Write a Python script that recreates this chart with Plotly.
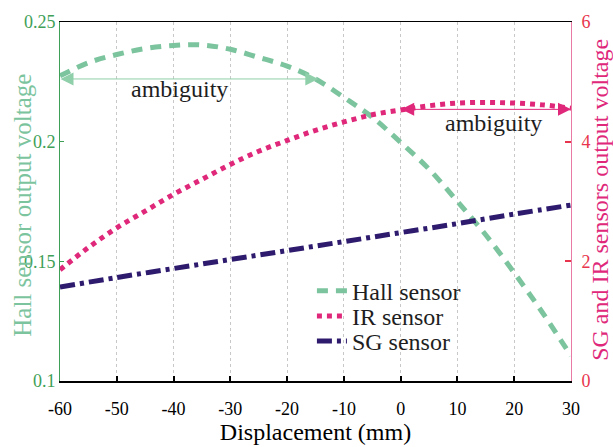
import plotly.graph_objects as go

# ---------------- data ----------------
disp5 = [-60, -55, -50, -45, -40, -35, -30, -25, -20, -15, -10, -5, 0, 5, 10, 15, 20, 25, 30]
hall = [0.2275, 0.2330, 0.2364, 0.2389, 0.2402, 0.2404, 0.2386, 0.2352, 0.2316, 0.2262,
        0.2185, 0.2102, 0.1997, 0.1885, 0.1750, 0.1610, 0.1452, 0.1285, 0.1105]
ir = [1.86, 2.23, 2.56, 2.84, 3.12, 3.37, 3.62, 3.84, 4.02, 4.19,
      4.33, 4.45, 4.53, 4.60, 4.645, 4.655, 4.645, 4.615, 4.56]
disp10 = [-60, -50, -40, -30, -20, -10, 0, 10, 20, 30]
sg = [1.57, 1.73, 1.88, 2.03, 2.18, 2.33, 2.48, 2.63, 2.79, 2.94]

x_ticks = [-60, -50, -40, -30, -20, -10, 0, 10, 20, 30]
x_ticktext = ["-60", "-50", "-40", "-30", "-20", "-10", "0", "10", "20", "30"]
y_ticks = [0.1, 0.15, 0.2, 0.25]
y2_ticks = [0, 2, 4, 6]

hall_amb = (-60, -14.5, 0.2262)
ir_amb = (0, 30, 4.54)
hall_label = (-38.9, 0.2218)
ir_label = (16.4, 4.32)

# ---------------- style ----------------
FONT = "Liberation Serif"
GREEN = "#7cc49e"
GREEN_AX = "#3f9f57"
PINK = "#e0287a"
PINK_AX = "#e87aa4"
RED = "#e8344c"
NAVY = "#2e1b6e"
TXT = "#1e1e1e"

fig = go.Figure()
fig.add_trace(go.Scatter(x=disp5, y=hall, mode="lines", name="Hall sensor", legend="legend",
                         line=dict(color=GREEN, width=5, dash="11px,8px", shape="spline")))
fig.add_trace(go.Scatter(x=disp5, y=ir, mode="lines", name="IR sensor", yaxis="y2", legend="legend2",
                         line=dict(color=PINK, width=5, dash="5px,5px", shape="spline")))
fig.add_trace(go.Scatter(x=disp10, y=sg, mode="lines", name="SG sensor", yaxis="y2", legend="legend3",
                         line=dict(color=NAVY, width=5, dash="15px,5px,4px,5px", shape="spline")))
# invisible trace on the top axis so the frame line is drawn
fig.add_trace(go.Scatter(x=[-60], y=[0.1], xaxis="x2", mode="markers",
                         marker=dict(opacity=0), showlegend=False, hoverinfo="skip"))

annotations = [
    dict(x=hall_amb[1], y=hall_amb[2], ax=hall_amb[0], ay=hall_amb[2], xref="x", yref="y",
         axref="x", ayref="y", text="", showarrow=True, arrowside="end+start",
         arrowhead=2, startarrowhead=2, arrowsize=2.6, startarrowsize=2.6,
         arrowwidth=1, arrowcolor="#8fcfaa", borderpad=0, standoff=0, startstandoff=0),
    dict(x=ir_amb[1], y=ir_amb[2], ax=ir_amb[0], ay=ir_amb[2], xref="x", yref="y2",
         axref="x", ayref="y2", text="", showarrow=True, arrowside="end+start",
         arrowhead=2, startarrowhead=2, arrowsize=2.6, startarrowsize=2.6,
         arrowwidth=1, arrowcolor=PINK, borderpad=0, standoff=0, startstandoff=0),
    dict(x=hall_label[0], y=hall_label[1], xref="x", yref="y", text="ambiguity", showarrow=False,
         font=dict(family=FONT, size=24, color=TXT)),
    dict(x=ir_label[0], y=ir_label[1], xref="x", yref="y2", text="ambiguity", showarrow=False,
         font=dict(family=FONT, size=24, color=TXT)),
    dict(x=-0.075, y=0.49, xref="paper", yref="paper", xanchor="center", yanchor="middle",
         text="Hall sensor output voltage",
         textangle=-90, showarrow=False, font=dict(family=FONT, size=25, color=GREEN)),
    dict(x=1.057, y=0.505, xref="paper", yref="paper", xanchor="center", yanchor="middle",
         text="SG and IR sensors output voltage",
         textangle=-90, showarrow=False, font=dict(family=FONT, size=24, color=PINK)),
]

leg_common = dict(x=0.493, xanchor="left", yanchor="middle", bgcolor="rgba(0,0,0,0)",
                  font=dict(family=FONT, size=24, color=TXT), borderwidth=0)

fig.update_layout(
    width=613, height=447,
    margin=dict(l=60, r=42, t=19, b=50),
    paper_bgcolor="white", plot_bgcolor="white",
    font=dict(family=FONT, size=18, color="black"),
    showlegend=True,
    legend=dict(y=0.250, **leg_common),
    legend2=dict(y=0.180, **leg_common),
    legend3=dict(y=0.110, **leg_common),
    annotations=annotations,
    xaxis=dict(range=[-60, 30], tickvals=x_ticks, ticktext=x_ticktext,
               showgrid=True, gridcolor="#c8c8c8", griddash="dot", gridwidth=1,
               showline=True, linecolor="black", linewidth=2, mirror=False,
               ticks="inside", ticklen=5, tickcolor="black", tickwidth=1.5,
               ticklabelstandoff=10,
               zeroline=False, tickfont=dict(family=FONT, size=18, color="black"),
               title=dict(text="Displacement (mm)", font=dict(family=FONT, size=24, color="black"),
                          standoff=0)),
    xaxis2=dict(range=[-60, 30], overlaying="x", side="top", showline=True, linecolor="black",
                linewidth=1, showticklabels=False, showgrid=False, zeroline=False, ticks=""),
    yaxis=dict(range=[0.1, 0.25], tickvals=y_ticks, showgrid=False, zeroline=False,
               showline=True, linecolor=GREEN_AX, linewidth=1,
               ticks="inside", ticklen=4, tickcolor=GREEN_AX,
               tickfont=dict(family=FONT, size=18, color=GREEN_AX)),
    yaxis2=dict(range=[0, 6], tickvals=y2_ticks, overlaying="y", side="right", showgrid=False,
                zeroline=False, showline=True, linecolor=PINK_AX, linewidth=1,
                ticks="inside", ticklen=6, tickcolor=RED, tickwidth=2,
                ticklabelstandoff=6,
                tickfont=dict(family=FONT, size=18, color=RED)),
)

fig.write_html("out.html")
